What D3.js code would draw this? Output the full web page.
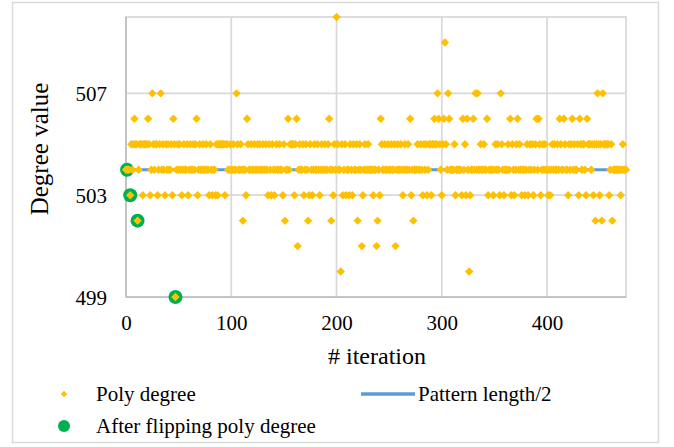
<!DOCTYPE html>
<html>
<head>
<meta charset="utf-8">
<script src="https://cdn.jsdelivr.net/npm/d3@7"></script>
<style>
  html, body { margin: 0; padding: 0; background: #fff; }
  svg { display: block; }
  text { font-family: "Liberation Serif", "Times New Roman", serif; fill: #000; }
</style>
</head>
<body>
<svg id="chart" width="674" height="447"></svg>
<script>
// ---------------- DATA ----------------
const lastIteration = 475;
const baseDegree = 504;          // every iteration not listed below
const deg510 = [200];
const deg509 = [303];
const deg507 = [25, 33, 105, 296, 306, 332, 334, 356, 448, 453];
const deg506 = [8, 21, 45, 67, 115, 154, 162, 193, 242, 270, 293, 297, 302, 307, 320, 324, 330, 343, 365, 372, 390, 392, 412, 416, 424, 431, 438];
const deg505 = [5, 7, 9, 10, 13, 14, 15, 17, 18, 19, 20, 22, 26, 28, 29,
  32, 35, 38, 40, 43, 46, 49, 51, 55, 58, 61, 64, 66,
  70, 73, 76, 80, 86, 88, 89, 90, 91, 92, 93, 95, 96,
  99, 102, 106, 109, 116, 119, 122, 125, 127, 130, 133, 136, 139, 143, 146, 150,
  156, 157, 158, 159, 161, 165, 168, 171, 175, 179, 182, 186, 189, 192, 198, 201, 205, 208,
  213, 216, 219, 222, 227, 230, 243, 246, 249, 252, 255, 258, 261, 265, 268,
  277, 280, 283, 285, 288, 289, 291, 292, 294, 295, 298, 301, 304, 312, 322,
  337, 340, 351, 353, 357, 363, 367, 371, 374,
  381, 384, 386, 389, 393, 396, 398, 405, 407, 410, 413, 417, 421, 423, 426,
  429, 432, 434, 435, 439, 440, 441, 443, 445, 447, 449, 451, 454, 455, 456, 457, 458, 461, 472];
const deg503 = [4, 16, 23, 30, 37, 44, 53, 59, 68, 79, 82, 85, 87, 94, 114, 135, 138, 141, 149,
  160, 169, 174, 177, 184, 197, 206, 209, 212, 215, 225, 235, 241, 263, 271, 282, 286, 290, 300,
  313, 319, 323, 327, 344, 349, 355, 359, 366, 369, 376, 379, 382, 387, 394, 401, 403, 420, 430,
  437, 444, 450, 459, 470];
const deg502 = [11, 111, 151, 173, 195, 220, 239, 273, 446, 452, 462];
const deg501 = [163, 224, 238, 256];
const deg500 = [204, 326];
const deg499 = [47];

const patternHalf = 504;                       // Pattern length/2
const flippedIter = [1, 4, 11, 47];            // After flipping poly degree
const flippedDeg  = [504, 503, 502, 499];

const xTicks = [0, 100, 200, 300, 400];
const yTicks = [499, 503, 507];
const seriesNames = ["Poly degree", "Pattern length/2", "After flipping poly degree"];

// build series
const overrides = new Map();
[[510, deg510], [509, deg509], [507, deg507], [506, deg506], [505, deg505],
 [503, deg503], [502, deg502], [501, deg501], [500, deg500], [499, deg499]]
  .forEach(([v, arr]) => arr.forEach(i => overrides.set(i, v)));
const poly = [];
for (let i = 0; i <= lastIteration; i++) poly.push({ i, v: overrides.has(i) ? overrides.get(i) : baseDegree });
const flipped = flippedIter.map((it, k) => ({ i: it, v: flippedDeg[k] }));
const pattern = [{ i: 0, v: patternHalf }, { i: lastIteration, v: patternHalf }];

// ---------------- CHART ----------------
const svg = d3.select("#chart");
const L = 126, R = 626, T = 17, B = 297;
const x = d3.scaleLinear().domain([0, lastIteration]).range([L, R]);
const y = d3.scaleLinear().domain([499, 510]).range([B, T]);

const ORANGE = "#FFC000", BLUE = "#5B9BD5", GREEN = "#00B050";

// outer border
svg.append("rect").attr("x", 12.5).attr("y", 2.5).attr("width", 646).attr("height", 440)
  .attr("fill", "#fff").attr("stroke", "#D9D9D9").attr("stroke-width", 1.5);

// gridlines
const grid = svg.append("g");
grid.selectAll(".vg").data(xTicks.filter(t => t > 0)).join("line")
  .attr("x1", d => x(d)).attr("x2", d => x(d)).attr("y1", T).attr("y2", B)
  .attr("stroke", "#D9D9D9").attr("stroke-width", 1.75);
grid.selectAll(".hg").data(yTicks.filter(t => t > 499)).join("line")
  .attr("x1", L).attr("x2", R).attr("y1", d => y(d)).attr("y2", d => y(d))
  .attr("stroke", "#D9D9D9").attr("stroke-width", 1.75);
// plot border
svg.append("rect").attr("x", L).attr("y", T).attr("width", R - L).attr("height", B - T)
  .attr("fill", "none").attr("stroke", "#D9D9D9").attr("stroke-width", 1.75);
// axis lines
svg.append("line").attr("x1", L).attr("x2", L).attr("y1", T).attr("y2", B)
  .attr("stroke", "#BFBFBF").attr("stroke-width", 1.75);
svg.append("line").attr("x1", L).attr("x2", R).attr("y1", B).attr("y2", B)
  .attr("stroke", "#BFBFBF").attr("stroke-width", 1.75);

// axes (labels only) via d3 axes
const xAxis = svg.append("g").attr("transform", `translate(0,${B})`)
  .call(d3.axisBottom(x).tickValues(xTicks).tickSize(0).tickPadding(0).tickFormat(d3.format("d")));
xAxis.select(".domain").remove();
xAxis.selectAll("text").attr("y", 33).attr("dy", 0).style("font-size", "21px")
  .style("font-family", "'Liberation Serif', serif");

const yAxis = svg.append("g").attr("transform", `translate(${L},0)`)
  .call(d3.axisLeft(y).tickValues(yTicks).tickSize(0).tickPadding(0).tickFormat(d3.format("d")));
yAxis.select(".domain").remove();
yAxis.selectAll("text").attr("x", -19).attr("dy", "0.35em").style("font-size", "21px")
  .style("font-family", "'Liberation Serif', serif");

// line series
const line = d3.line().x(d => x(d.i)).y(d => y(d.v));
svg.append("path").datum(pattern).attr("d", line).attr("fill", "none")
  .attr("stroke", BLUE).attr("stroke-width", 3);

// flipped circles
svg.append("g").selectAll("circle").data(flipped).join("circle")
  .attr("cx", d => x(d.i)).attr("cy", d => y(d.v)).attr("r", 7).attr("fill", GREEN);

// diamonds
const diamond = "M0,-4.2L4.2,0L0,4.2L-4.2,0Z";
svg.append("g").selectAll("path").data(poly).join("path")
  .attr("d", diamond).attr("transform", d => `translate(${x(d.i)},${y(d.v)})`)
  .attr("fill", ORANGE);

// titles
svg.append("text").attr("x", 377).attr("y", 364).attr("text-anchor", "middle")
  .style("font-size", "24px").text("# iteration");
svg.append("text").attr("transform", "translate(48,149) rotate(-90)").attr("text-anchor", "middle")
  .style("font-size", "25px").text("Degree value");

// legend
const lg = svg.append("g");
lg.append("path").attr("d", "M0,-3.2L3.2,0L0,3.2L-3.2,0Z").attr("transform", "translate(64,394)").attr("fill", ORANGE);
lg.append("text").attr("x", 96).attr("y", 400.5).style("font-size", "21px").text(seriesNames[0]);
lg.append("line").attr("x1", 361).attr("x2", 415).attr("y1", 394).attr("y2", 394)
  .attr("stroke", BLUE).attr("stroke-width", 3.5);
lg.append("text").attr("x", 418).attr("y", 400.5).style("font-size", "21px").text(seriesNames[1]);
lg.append("circle").attr("cx", 64).attr("cy", 426).attr("r", 6).attr("fill", GREEN);
lg.append("text").attr("x", 96).attr("y", 432.5).style("font-size", "21px").text(seriesNames[2]);
</script>
</body>
</html>
